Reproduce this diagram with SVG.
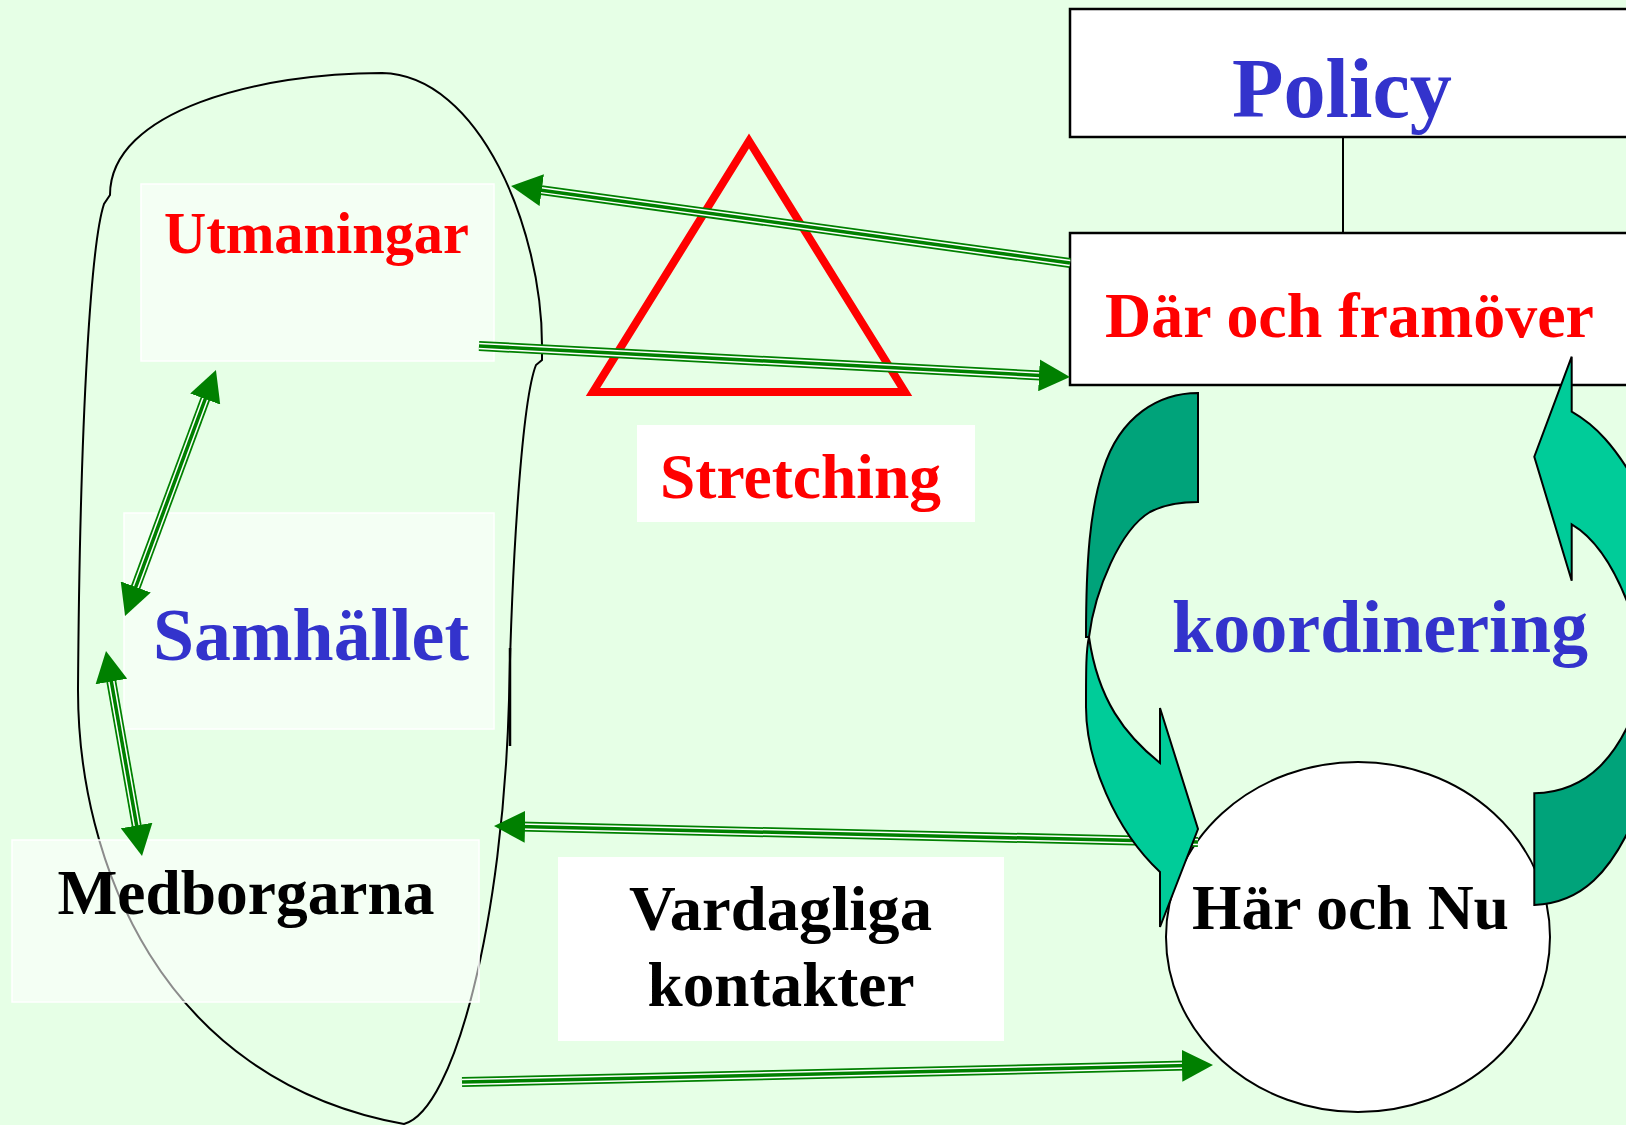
<svg xmlns="http://www.w3.org/2000/svg" width="1626" height="1125" viewBox="0 0 1626 1125">
<style>
text{font-family:"Liberation Serif","Times New Roman",serif;font-weight:bold;text-anchor:middle}
.red{fill:#FF0000}.blue{fill:#3333CC}.blk{fill:#000}
.outline{fill:none;stroke:#000;stroke-width:2}
.tbox{fill:#fff;fill-opacity:.55;stroke:#fff;stroke-width:1.5}
.wbox{fill:#fff}
.frame{fill:#fff;stroke:#000;stroke-width:2.5}
.c1{fill:none;stroke:#008000;stroke-width:10}
.c2{fill:none;stroke:#fff;stroke-width:6.5}
.c3{fill:none;stroke:#008000;stroke-width:3.5}
.dk{fill:#00A37A;stroke:#000;stroke-width:2;stroke-linejoin:miter}
.lt{fill:#00CC99;stroke:#000;stroke-width:2;stroke-linejoin:miter}
</style>
<defs>
<marker id="ah" markerUnits="userSpaceOnUse" viewBox="0 0 31 32" markerWidth="31" markerHeight="32" refX="6" refY="16" orient="auto-start-reverse">
<path d="M0,0 L31,16 L0,32 z" fill="#008000"/>
</marker>
</defs>
<rect width="1626" height="1125" fill="#E6FFE6"/>

<g id="samhallet-grans">
<path class="outline" d="M382,73 C260,73 110,110 110,195 L104,204 C92,240 80,400 78,690 C78,860 160,1080 404,1124 C455,1110 503,920 509,700 C512,560 522,400 536,365 L542,360 L542,345 C542,230 480,75 382,73 Z"/>
<path d="M510,648 L510,746" stroke="#000" stroke-width="2.5"/>
</g>

<g id="utmaningar">
<rect class="tbox" x="141" y="184" width="353" height="177"/>
<text class="red" x="316.5" y="253" font-size="59" textLength="305" lengthAdjust="spacingAndGlyphs">Utmaningar</text>
</g>

<g id="samhallet">
<rect class="tbox" x="124" y="513" width="370" height="216"/>
<text class="blue" x="311" y="660" font-size="74" textLength="316" lengthAdjust="spacingAndGlyphs">Samhället</text>
</g>

<g id="medborgarna">
<rect class="tbox" x="12" y="840" width="467" height="162"/>
<text class="blk" x="246" y="914" font-size="64" textLength="377" lengthAdjust="spacingAndGlyphs">Medborgarna</text>
</g>

<g id="stretching-triangel">
<polygon points="749,141 905,392 593,392" fill="none" stroke="#FF0000" stroke-width="8" stroke-miterlimit="10"/>
</g>

<g id="stretching">
<rect class="wbox" x="637" y="425" width="338" height="97"/>
<text class="red" x="800.5" y="498" font-size="63" textLength="281" lengthAdjust="spacingAndGlyphs">Stretching</text>
</g>

<g id="vardagliga-kontakter">
<rect class="wbox" x="558" y="857" width="446" height="184"/>
<text class="blk" x="780.5" y="930" font-size="63" textLength="303" lengthAdjust="spacingAndGlyphs">Vardagliga</text>
<text class="blk" x="781" y="1006" font-size="63" textLength="267" lengthAdjust="spacingAndGlyphs">kontakter</text>
</g>

<g id="policy">
<rect class="frame" x="1070" y="9" width="600" height="128"/>
<text class="blue" x="1342" y="117" font-size="84" textLength="220" lengthAdjust="spacingAndGlyphs">Policy</text>
</g>

<g id="policy-link">
<path d="M1343,137 L1343,233" stroke="#000" stroke-width="2"/>
</g>

<g id="dar-och-framover">
<rect class="frame" x="1070" y="233" width="600" height="152"/>
<text class="red" x="1349.5" y="337" font-size="64" textLength="489" lengthAdjust="spacingAndGlyphs">Där och framöver</text>
</g>

<g id="har-och-nu">
<ellipse cx="1358" cy="937" rx="192" ry="175" fill="#fff" stroke="#000" stroke-width="2"/>
<text class="blk" x="1350.5" y="929" font-size="63" textLength="317" lengthAdjust="spacingAndGlyphs">Här och Nu</text>
</g>

<g id="connectors">
<g id="c-dar-utmaningar">
<path class="c1" d="M1070,263 L535.8,189.4"/><path class="c2" d="M1070,263 L535.8,189.4"/><path class="c3" d="M1070,263 L535.8,189.4" marker-end="url(#ah)"/>
</g>
<g id="c-utmaningar-dar">
<path class="c1" d="M479,346 L1045,375.7"/><path class="c2" d="M479,346 L1045,375.7"/><path class="c3" d="M479,346 L1045,375.7" marker-end="url(#ah)"/>
</g>
<g id="c-utmaningar-samhallet">
<path class="c1" d="M207.3,393.4 L133.7,592.6"/><path class="c2" d="M207.3,393.4 L133.7,592.6"/><path class="c3" d="M207.3,393.4 L133.7,592.6" marker-start="url(#ah)" marker-end="url(#ah)"/>
</g>
<g id="c-samhallet-medborgarna">
<path class="c1" d="M110.3,675.6 L137.7,831.4"/><path class="c2" d="M110.3,675.6 L137.7,831.4"/><path class="c3" d="M110.3,675.6 L137.7,831.4" marker-start="url(#ah)" marker-end="url(#ah)"/>
</g>
<g id="c-harochnu-blob">
<path class="c1" d="M1198,842 L519,826.6"/><path class="c2" d="M1198,842 L519,826.6"/><path class="c3" d="M1198,842 L519,826.6" marker-end="url(#ah)"/>
</g>
<g id="c-blob-harochnu">
<path class="c1" d="M462,1082 L1188,1065.6"/><path class="c2" d="M462,1082 L1188,1065.6"/><path class="c3" d="M462,1082 L1188,1065.6" marker-end="url(#ah)"/>
</g>
</g>

<g id="koordinering-pil-vanster">
<path class="lt" d="M1089,637 C1086,650 1086,670 1086,707 C1086,760 1115,830 1160,872 L1160,927 L1198,829 L1160,708 L1160,763 C1125,735 1098,700 1089,637 Z"/>
<path class="dk" d="M1198,393 C1160,393 1120,415 1103,470 C1090,510 1086,560 1086,637 L1089,637 C1095,590 1120,530 1150,512 C1165,504 1180,502 1198,502 Z"/>
</g>

<g id="koordinering-pil-hoger">
<path class="lt" d="M1571.7,356.7 L1534.3,456.7 L1571.7,580.7 L1571.7,524.3 C1595,538 1620,570 1640,640 L1700,640 L1700,490 L1640,490 C1615,445 1595,425 1571.7,411.7 Z"/>
<path class="dk" d="M1534.3,793.3 L1534.3,905 C1580,903 1612,875 1640,805 L1700,805 L1700,680 L1645,680 C1622,760 1585,792 1534.3,793.3 Z"/>
</g>

<g id="koordinering">
<text class="blue" x="1380" y="652" font-size="74" textLength="416" lengthAdjust="spacingAndGlyphs">koordinering</text>
</g>
</svg>
